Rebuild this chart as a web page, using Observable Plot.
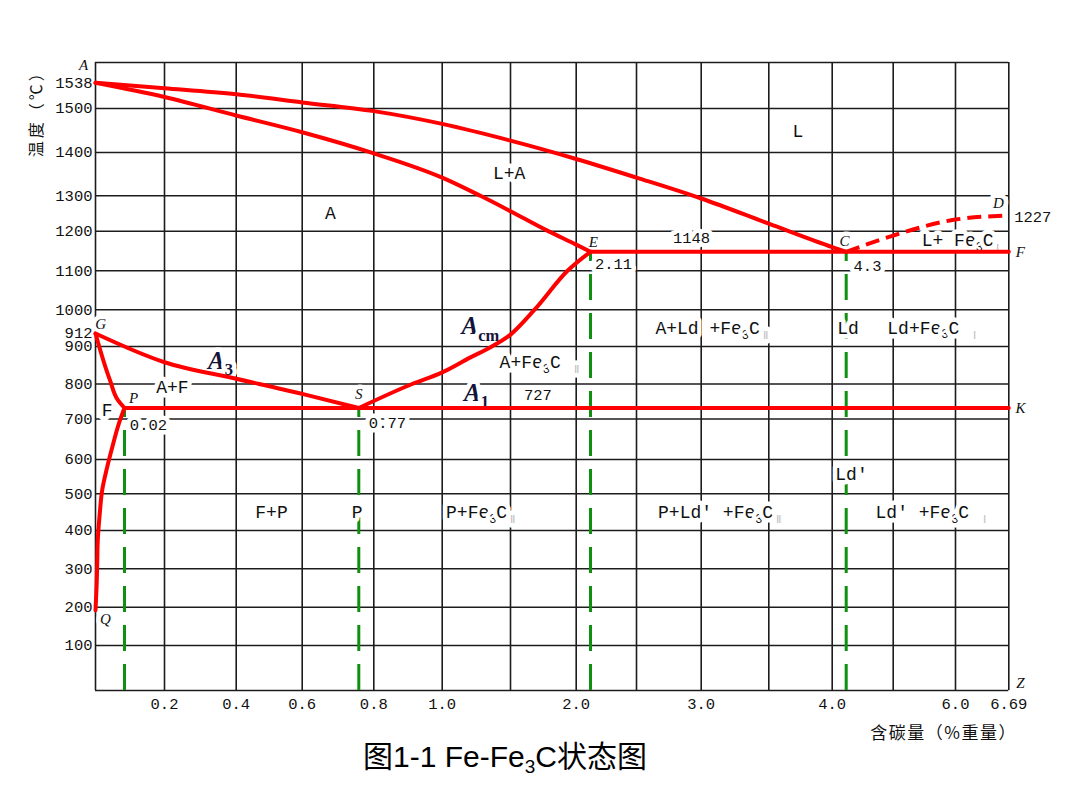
<!DOCTYPE html>
<html>
<head>
<meta charset="utf-8">
<script src="https://cdn.jsdelivr.net/npm/d3@7"></script>
<script src="https://cdn.jsdelivr.net/npm/@observablehq/plot@0.6"></script>
<style>
  body { margin: 0; background: #fff; }
  #chart svg { display: block; }
  #title {
    font-family: "Liberation Sans", Arial, "Noto Sans CJK SC", sans-serif;
    font-size: 30px; line-height: 30px; height: 60px; margin-top: -3px;
    padding-left: 363px; color: #000; white-space: nowrap;
  }
  #title sub { font-size: 19px; line-height: 0; vertical-align: -6px; }
</style>
</head>
<body>
<div id="chart"></div>
<div id="title">图1-1 Fe-Fe<sub>3</sub>C状态图</div>
<script>
// ---- data (carbon wt% , temperature °C) ----
const xGridLines = [0, 0.2, 0.4, 0.6, 0.8, 1.0, 1.5, 2.0, 2.5, 3.0, 3.5, 4.0, 5.0, 6.0, 6.69];
const yGridLines = [0, 100, 200, 300, 400, 500, 600, 700, 800, 900, 1000, 1100, 1200, 1300, 1400, 1500, 1570];
const xTicks = [0.2, 0.4, 0.6, 0.8, 1.0, 2.0, 3.0, 4.0, 6.0, 6.69];
const yTicks = [100, 200, 300, 400, 500, 600, 700, 800, 900, 912, 1000, 1100, 1200, 1300, 1400, 1500, 1538];

const liquidusAC = [[0,1538],[0.2,1530],[0.4,1521],[0.6,1509],[0.8,1494],[1.0,1465],[1.5,1427],[2.0,1385],[2.5,1342],[3.0,1290],[3.5,1213],[4.0,1160],[4.3,1148]];
const solidusAE  = [[0,1538],[0.2,1517],[0.4,1484],[0.6,1446],[0.8,1398],[1.0,1342],[1.28,1300],[1.5,1243],[1.78,1201],[2.0,1166],[2.11,1148]];
const eutecticECF = [[2.11,1148],[6.69,1148]];
const lineCD = [[4.3,1148],[5.0,1189],[6.0,1220],[6.69,1227]];
const lineGS = [[0,912],[0.2,858],[0.4,814],[0.6,770],[0.77,727]];
const lineGP = [[0,912],[0.011,809],[0.017,750],[0.0218,727]];
const linePQ = [[0.0218,727],[0.0175,688],[0.0126,630],[0.0088,578],[0.005,510],[0.0032,446],[0.0017,374],[0.0013,317],[0.0008,252],[0,192]];
const lineES = [[0.77,727],[0.912,800],[1.0,831],[1.207,871],[1.354,898],[1.5,911],[1.683,1000],[1.934,1100],[2.11,1148]];
const eutectoidPSK = [[0.0218,727],[6.69,727]];
const dropLines = [[0.0218,727],[0.77,727],[2.11,1148],[4.3,1148]];

const regionLabels = [
  [3.73,1448,"L"], [1.49,1351,"L+A"], [0.685,1234,"A"], [6.065,1176,"L+ Fe_{3}C~{Ⅰ}"],
  [3.076,930,"A+Ld +Fe_{3}C~{Ⅱ}"], [4.327,930,"Ld"], [5.615,932,"Ld+Fe_{3}C ~{Ⅰ}"],
  [1.72,857,"A+Fe_{3}C ~{Ⅱ}"], [0.222,789,"A+F"], [0.0088,721,"F"],
  [0.507,449,"F+P"], [0.765,449,"P"], [1.28,449,"P+Fe_{3}C~{Ⅱ}"],
  [3.135,449,"P+Ld′ +Fe_{3}C~{Ⅱ}"], [4.379,556,"Ld′"], [5.6,449,"Ld′ +Fe_{3}C ~{Ⅰ}"]
];
const numberLabels = [
  [2.925,1184,"1148"], [2.305,1116,"2.11"], [4.617,1111,"4.3"], [7.0,1225,"1227"],
  [1.709,765,"727"], [0.84,691,"0.77"], [0.1286,684,"0.02"]
];
const pointLabels = [
  [-0.009,1565,"A"], [0.0038,945,"G"], [0.0618,756,"P"], [0.77,770,"S"], [2.135,1171,"E"],
  [4.264,1176,"C"], [6.557,1271,"D"], [6.84,1148,"F"], [6.84,727,"K"], [6.84,16,"Z"], [0.0075,170,"Q"]
];
const bigLabels = [[0.356,862,"A_{3}"], [1.251,774,"A_{1}"], [1.28,938,"A_{cm}"]];
const xAxisTitle = [[5.81,-96,"含碳量（%重量）"]];
const yAxisTitle = [[-0.0443,1497,"温度（℃）"]];

// ---- the printed diagram uses non-uniform (piecewise) axes ----
const xScaleDomain = [0,0.0218,0.2,0.4,0.6,0.77,0.8,1.0,1.5,2.0,2.11,2.5,3.0,3.5,4.0,4.3,5.0,6.0,6.69];
const xScaleRange  = [95,124,164,235.7,301.7,358.3,373.3,441.7,510,575.7,590,636,700.7,768.3,831.7,845.7,892.7,955,1008.3];
const yScaleDomain = [0,100,200,300,400,500,600,700,727,800,900,912,1000,1100,1200,1227,1300,1400,1500,1538,1570];
const yScaleRange  = [690,645,606.7,568.3,530,493.3,459,418.5,407.5,383.5,346,333,309.2,270.3,230.7,215,195.3,152,108,82.3,62];

const RED = "#ff0000", GREEN = "#109010", GRID = "#1c1c1c";
const MONO = "'Liberation Mono', 'DejaVu Sans Mono', monospace";
const SERIF = "'Liberation Serif', 'DejaVu Serif', serif";
const CJK = "'Noto Sans CJK SC', sans-serif";
const X = d => d[0], Y = d => d[1], T = d => d[2];

const redLine = (data, extra = {}) => Plot.line(data, {x: X, y: Y, stroke: RED, strokeWidth: 4, curve: "monotone-x", strokeLinejoin: "round", ...extra});
const halo = {stroke: "white", strokeWidth: 9, paintOrder: "stroke"};

const chart = Plot.plot({
  width: 1080, height: 745,
  marginLeft: 95, marginRight: 71.7, marginTop: 62, marginBottom: 55,
  style: {fontFamily: MONO, background: "white", color: "#111"},
  x: {type: "linear", domain: xScaleDomain, range: xScaleRange},
  y: {type: "linear", domain: yScaleDomain, range: yScaleRange},
  marks: [
    Plot.ruleX(xGridLines, {x: d => d, y1: 0, y2: 1570, stroke: GRID, strokeWidth: 1.6}),
    Plot.ruleY(yGridLines, {y: d => d, x1: 0, x2: 6.69, stroke: GRID, strokeWidth: 1.6}),
    Plot.ruleX(dropLines, {x: X, y1: 0, y2: Y, stroke: GREEN, strokeWidth: 3, strokeDasharray: "26,13"}),
    Plot.text(regionLabels, {x: X, y: Y, text: T, fontSize: 18, fontFamily: MONO, fill: "#111", ...halo}),
    Plot.text(numberLabels, {x: X, y: Y, text: T, fontSize: 15.5, fontFamily: MONO, fill: "#111", ...halo}),
    Plot.text(pointLabels, {x: X, y: Y, text: T, fontSize: 15, fontFamily: SERIF, fontStyle: "italic", fill: "#111", ...halo}),
    Plot.text(bigLabels, {x: X, y: Y, text: T, fontSize: 25, fontFamily: SERIF, fontStyle: "italic", fontWeight: "bold", fill: "#14143a", ...halo}),
    redLine(liquidusAC),
    redLine(solidusAE),
    redLine(lineES),
    redLine(lineGS),
    redLine(lineGP, {curve: "monotone-y"}),
    redLine(linePQ, {curve: "monotone-y"}),
    redLine(eutecticECF, {curve: "linear"}),
    redLine(eutectoidPSK, {curve: "linear"}),
    redLine(lineCD, {strokeDasharray: "14,7", strokeLinecap: "butt"}),
    Plot.axisX({ticks: xTicks, tickSize: 0, tickPadding: 7, label: null, fontSize: 15.5, fontFamily: MONO,
      tickFormat: d => d === 6.69 ? "6.69" : d.toFixed(1)}),
    Plot.axisY({ticks: yTicks, tickSize: 0, tickPadding: 3, label: null, fontSize: 15.5, fontFamily: MONO,
      tickFormat: d => String(d)}),
    Plot.text(xAxisTitle, {x: X, y: Y, text: T, fontSize: 17, fontFamily: CJK, fill: "#111"}),
    Plot.text(yAxisTitle, {x: X, y: Y, text: T, fontSize: 16, fontFamily: CJK, fill: "#111", rotate: -90})
  ]
});
document.getElementById("chart").appendChild(chart);

// letter spacing for the axis titles (CJK)
chart.querySelectorAll("text").forEach(el => {
  const s = el.textContent;
  if (s === "温度（℃）") el.setAttribute("letter-spacing", "3");
  if (s === "含碳量（%重量）") el.setAttribute("letter-spacing", "1.5");
});

// subscripts (_{..}) and faint roman-numeral suffixes (~{..}) as tspans
const SVGNS = "http://www.w3.org/2000/svg";
chart.querySelectorAll("text").forEach(el => {
  const s = el.textContent;
  if (!/[_~]\{/.test(s)) return;
  const fs = parseFloat(getComputedStyle(el).fontSize) || 16;
  while (el.firstChild) el.removeChild(el.firstChild);
  const parts = s.split(/([_~]\{[^}]*\})/).filter(p => p !== "");
  let shift = 0;
  for (const p of parts) {
    const ts = document.createElementNS(SVGNS, "tspan");
    let target = 0;
    if (p.startsWith("_{")) {
      ts.textContent = p.slice(2, -1);
      ts.setAttribute("font-size", (fs * 0.66).toFixed(1));
      ts.setAttribute("font-style", "normal");
      target = fs * 0.25;
    } else if (p.startsWith("~{")) {
      ts.textContent = p.slice(2, -1);
      ts.setAttribute("font-size", (fs * 0.62).toFixed(1));
      ts.setAttribute("fill", "#bdbdbd");
      ts.setAttribute("dx", (fs * 0.15).toFixed(1));
      target = fs * 0.28;
    } else {
      ts.textContent = p;
    }
    ts.setAttribute("dy", (target - shift).toFixed(2));
    shift = target;
    el.appendChild(ts);
  }
});
</script>
</body>
</html>
